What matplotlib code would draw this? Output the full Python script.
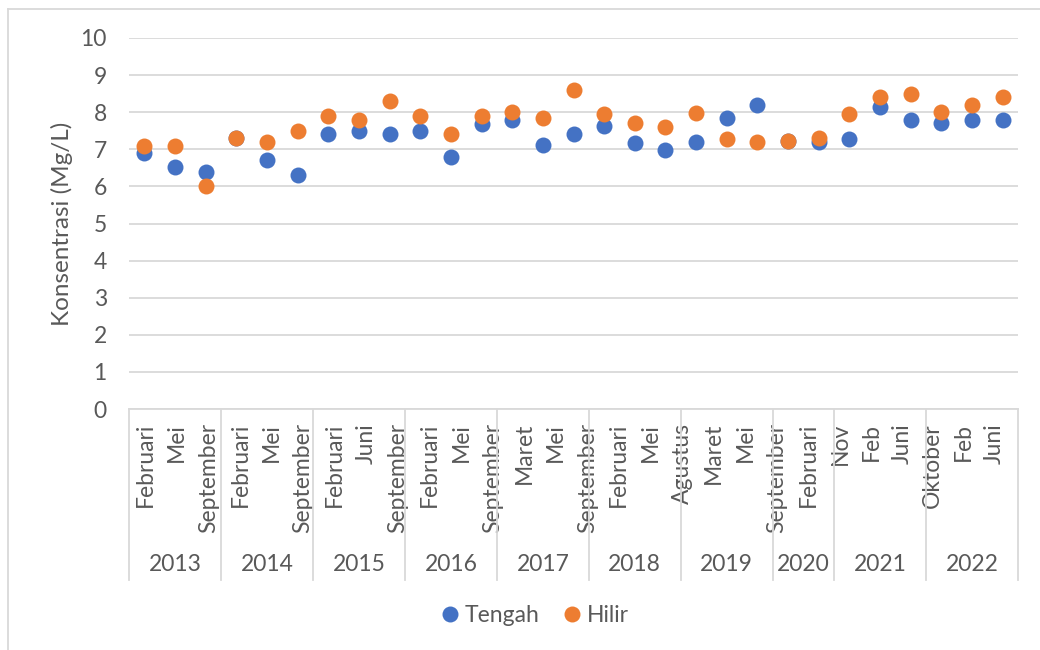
import matplotlib.pyplot as plt
import numpy as np
from matplotlib.lines import Line2D

plt.rcParams['font.family'] = ['Lato', 'DejaVu Sans']

years = ['2013', '2014', '2015', '2016', '2017', '2018', '2019', '2020', '2021', '2022']
n_per_year = [3, 3, 3, 3, 3, 3, 3, 2, 3, 3]

months = [
    'Februari', 'Mei', 'September',
    'Februari', 'Mei', 'September',
    'Februari', 'Juni', 'September',
    'Februari', 'Mei', 'September',
    'Maret', 'Mei', 'September',
    'Februari', 'Mei', 'Agustus',
    'Maret', 'Mei', 'September',
    'Februari', 'Nov',
    'Feb', 'Juni',
    'Oktober', 'Feb', 'Juni',
]

tengah = [
    6.9, 6.53, 6.4,
    7.3, 6.7, 6.3,
    7.4, 7.5, 7.4,
    7.5, 6.78, 7.68,
    7.8, 7.12, 7.4,
    7.63, 7.18, 6.98,
    7.2, 7.85, 8.2,
    7.22, 7.2,
    7.28, 8.13, 7.8,
    7.7, 7.8, 7.8,
]

hilir = [
    7.1, 7.1, 6.0,
    7.3, 7.2, 7.5,
    7.9, 7.8, 8.3,
    7.9, 7.4, 7.9,
    8.0, 7.85, 8.6,
    7.95, 7.7, 7.6,
    7.97, 7.28, 7.2,
    7.22, 7.3,
    7.95, 8.42, 8.5,
    8.0, 8.2, 8.4,
]

blue = '#4472C4'
orange = '#ED7D31'
grid_c = '#D9D9D9'
text_c = '#595959'

fig = plt.figure(figsize=(10.4, 6.5), dpi=100)
ax = fig.add_axes([129 / 1040, 1 - 409 / 650, 889 / 1040, 371 / 650])

x = np.arange(len(tengah))
ax.plot(x, tengah, 'o', color=blue, markersize=11.5, markeredgewidth=0, label='Tengah', zorder=3)
ax.plot(x, hilir, 'o', color=orange, markersize=11.5, markeredgewidth=0, label='Hilir', zorder=4)

ax.set_xlim(-0.5, len(tengah) - 0.5)
ax.set_ylim(0, 10)
ax.set_yticks(range(0, 11))
ax.yaxis.grid(True, color=grid_c, linewidth=1.3)
ax.set_axisbelow(True)

for side in ['top', 'right', 'left']:
    ax.spines[side].set_visible(False)
ax.spines['bottom'].set_color(grid_c)
ax.spines['bottom'].set_linewidth(1.3)

ax.tick_params(axis='y', length=0, pad=16, labelsize=16.5, labelcolor=text_c)

# month labels run on a slightly wider pitch than the points
idx = np.arange(len(months))
label_x = idx + np.minimum(0.03 + 0.03 * idx, 0.72)
ax.set_xticks(label_x)
ax.set_xticklabels(months, rotation=90, va='top', ha='center')
ax.tick_params(axis='x', length=0, pad=10, labelsize=16.5, labelcolor=text_c)

ax.set_ylabel('Konsentrasi (Mg/L)', fontsize=17.5, color=text_c)
ax.yaxis.set_label_coords(-0.063, 0.5)

# year groups under the month labels
trans = ax.get_xaxis_transform()
edges = np.concatenate([[0], np.cumsum(n_per_year)]) - 0.5
for e in edges:
    ax.add_line(Line2D([e, e], [0, -0.461], transform=trans, color=grid_c,
                       linewidth=1.3, clip_on=False))
for yr, a, b in zip(years, edges[:-1], edges[1:]):
    ax.text((a + b) / 2, -0.42, yr, transform=trans, ha='center', va='center',
            fontsize=16.5, color=text_c)

# chart frame
fig.add_artist(Line2D([8 / 1040, 8 / 1040], [0, 1 - 9 / 650], color=grid_c, linewidth=1.3))
fig.add_artist(Line2D([8 / 1040, 1], [1 - 9 / 650, 1 - 9 / 650], color=grid_c, linewidth=1.3))

fig.legend(loc='center', bbox_to_anchor=(535 / 1040, 1 - 616 / 650), ncol=2,
           frameon=False, fontsize=16.5, labelcolor=text_c, handlelength=0.8,
           handletextpad=0.25, columnspacing=1.0, markerscale=1.0)

fig.savefig('out.png', dpi=100)
